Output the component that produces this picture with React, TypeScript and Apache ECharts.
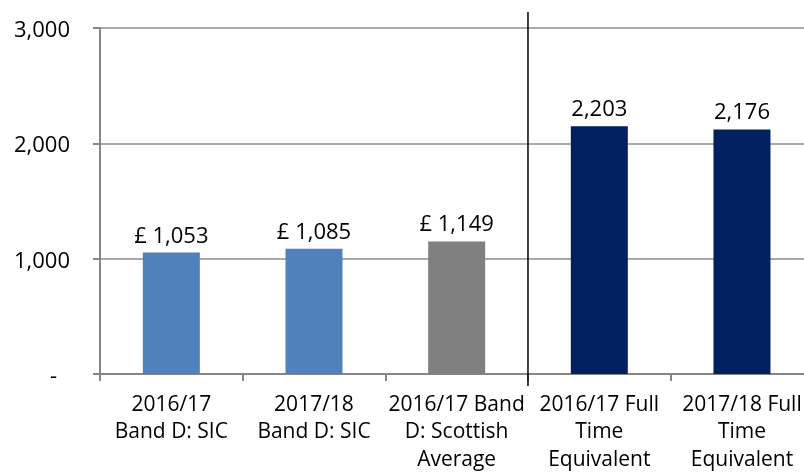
import React, { useEffect, useRef } from "react";
import * as echarts from "echarts";

const categories = [
  "2016/17\nBand D: SIC",
  "2017/18\nBand D: SIC",
  "2016/17 Band\nD: Scottish\nAverage",
  "2016/17 Full\nTime\nEquivalent",
  "2017/18 Full\nTime\nEquivalent",
];
const barValues = [1053, 1085, 1149, 2148, 2120];
const valueLabels = ["£ 1,053", "£ 1,085", "£ 1,149", "2,203", "2,176"];
const barColors = ["#4F81BD", "#4F81BD", "#808080", "#002060", "#002060"];
const yMin = 0;
const yMax = 3000;
const yInterval = 1000;

const FONT = "'Open Sans', 'Liberation Sans', sans-serif";

export default function App() {
  const ref = useRef<HTMLDivElement>(null);
  useEffect(() => {
    if (!ref.current) return;
    const chart = echarts.init(ref.current, undefined, { renderer: "svg" });
    chart.setOption({
      animation: false,
      grid: {
        left: 100,
        top: 28,
        height: 346,
        width: 713.3,
        containLabel: false,
        outerBoundsMode: "none",
      },
      xAxis: {
        type: "category",
        data: categories,
        axisLine: { show: true, lineStyle: { color: "#868686", width: 2 } },
        axisTick: { show: true, length: 7, lineStyle: { color: "#868686", width: 2 } },
        axisLabel: {
          interval: 0,
          margin: 15,
          fontFamily: FONT,
          fontSize: 21,
          lineHeight: 27.5,
          color: "#000",
        },
        splitLine: { show: false },
      },
      yAxis: {
        type: "value",
        min: yMin,
        max: yMax,
        interval: yInterval,
        axisLine: { show: true, lineStyle: { color: "#868686", width: 2 } },
        axisTick: { show: true, length: 7, lineStyle: { color: "#868686", width: 2 } },
        splitLine: { show: true, lineStyle: { color: "#8c8c8c", width: 1.5 } },
        axisLabel: {
          margin: 30,
          fontFamily: FONT,
          fontSize: 22,
          color: "#000",
          formatter: (v: number) =>
            v === 0 ? "{d|-}" : v.toLocaleString("en-US"),
          rich: {
            d: { fontFamily: FONT, fontSize: 22, color: "#000", padding: [0, 13, 0, 0] },
          },
        },
      },
      series: [
        {
          type: "bar",
          barWidth: 57,
          data: barValues.map((v, i) => ({ value: v, itemStyle: { color: barColors[i] } })),
          label: {
            show: true,
            position: "top",
            distance: 8,
            fontFamily: FONT,
            fontSize: 22,
            color: "#000",
            formatter: (p: any) => valueLabels[p.dataIndex],
          },
        },
      ],
    });
    const xa = chart.convertToPixel({ xAxisIndex: 0 }, categories[2]) as number;
    const xb = chart.convertToPixel({ xAxisIndex: 0 }, categories[3]) as number;
    const xm = (xa + xb) / 2;
    const yTop = (chart.convertToPixel({ yAxisIndex: 0 }, yMax) as number) - 16;
    const yBot = (chart.convertToPixel({ yAxisIndex: 0 }, yMin) as number) + 12;
    chart.setOption({
      graphic: [
        {
          type: "line",
          z: 10,
          shape: { x1: xm, y1: yTop, x2: xm, y2: yBot },
          style: { stroke: "#000", lineWidth: 1.5 },
        },
      ],
    });
    return () => chart.dispose();
  }, []);
  return (
    <div
      ref={ref}
      style={{ position: "fixed", left: 0, top: 0, width: 804, height: 474 }}
    />
  );
}
